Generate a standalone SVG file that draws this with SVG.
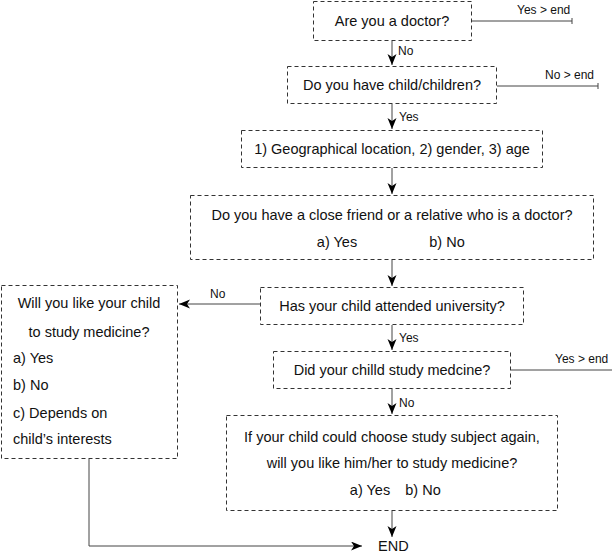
<svg xmlns="http://www.w3.org/2000/svg" width="612" height="556" viewBox="0 0 612 556">
<style>
.box{fill:#fff;stroke:#333;stroke-width:1;stroke-dasharray:4 3}
.t{font-family:"Liberation Sans",Arial,sans-serif;font-size:14.5px;fill:#111;text-anchor:middle}
.tl{font-family:"Liberation Sans",Arial,sans-serif;font-size:14.5px;fill:#111}
.s{font-family:"Liberation Sans",Arial,sans-serif;font-size:12px;fill:#111}
.ln{fill:none;stroke:#444;stroke-width:1}
</style>
<defs>
<marker id="ah" markerUnits="userSpaceOnUse" markerWidth="13" markerHeight="11" refX="11" refY="4.5" orient="auto">
<path d="M0,0 L11,4.5 L0,9 L3,4.5 z" fill="#000"/>
</marker>
</defs>
<rect width="612" height="556" fill="#fff"/>
<g id="connectors">
<line class="ln" x1="392" y1="41" x2="392" y2="65" marker-end="url(#ah)"/>
<line class="ln" x1="472" y1="21" x2="572" y2="21"/>
<line class="ln" x1="572" y1="18" x2="572" y2="24"/>
<line class="ln" x1="392" y1="104" x2="392" y2="129" marker-end="url(#ah)"/>
<line class="ln" x1="497" y1="86" x2="598" y2="86"/>
<line class="ln" x1="598" y1="83" x2="598" y2="89"/>
<line class="ln" x1="392" y1="168" x2="392" y2="194" marker-end="url(#ah)"/>
<line class="ln" x1="392" y1="260" x2="392" y2="286" marker-end="url(#ah)"/>
<line class="ln" x1="260" y1="304" x2="179" y2="304" marker-end="url(#ah)"/>
<line class="ln" x1="392" y1="325" x2="392" y2="350" marker-end="url(#ah)"/>
<line class="ln" x1="511" y1="370" x2="612" y2="370"/>
<line class="ln" x1="392" y1="389" x2="392" y2="414" marker-end="url(#ah)"/>
<line class="ln" x1="392" y1="511" x2="392" y2="537" marker-end="url(#ah)"/>
<path class="ln" d="M89,459 L89,546 L362,546" marker-end="url(#ah)"/>
<text class="s" x="517" y="14">Yes &gt; end</text>
<text class="s" x="398" y="55">No</text>
<text class="s" x="545" y="79">No &gt; end</text>
<text class="s" x="399" y="121">Yes</text>
<text class="s" x="210" y="298">No</text>
<text class="s" x="399" y="342">Yes</text>
<text class="s" x="555" y="363">Yes &gt; end</text>
<text class="s" x="399" y="407">No</text>
</g>
<g id="n1"><rect class="box" x="313.5" y="1.5" width="158" height="39"/><text class="t" x="392" y="26">Are you a doctor?</text></g>
<g id="n2"><rect class="box" x="287.5" y="66.5" width="209" height="37"/><text class="t" x="392" y="90">Do you have child/children?</text></g>
<g id="n3"><rect class="box" x="241.5" y="130.5" width="301" height="37"/><text class="t" x="392" y="154">1) Geographical location, 2) gender, 3) age</text></g>
<g id="n4"><rect class="box" x="190.5" y="195.5" width="403" height="64"/><text class="t" x="392" y="220">Do you have a close friend or a relative who is a doctor?</text><text class="t" x="337" y="247">a) Yes</text><text class="t" x="447" y="247">b) No</text></g>
<g id="n5"><rect class="box" x="260.5" y="287.5" width="263" height="37"/><text class="t" x="392" y="311">Has your child attended university?</text></g>
<g id="n6"><rect class="box" x="273.5" y="351.5" width="237" height="37"/><text class="t" x="392" y="375">Did your chilld study medcine?</text></g>
<g id="n7"><rect class="box" x="226.5" y="415.5" width="331" height="95"/><text class="t" x="392" y="442">If your child could choose study subject again,</text><text class="t" x="392" y="468">will you like him/her to study medicine?</text><text class="t" x="370" y="495">a) Yes</text><text class="t" x="423" y="495">b) No</text></g>
<g id="n8"><rect class="box" x="1.5" y="285.5" width="176" height="173"/><text class="t" x="89" y="308">Will you like your child</text><text class="t" x="89" y="337">to study medicine?</text><text class="tl" x="13" y="363">a) Yes</text><text class="tl" x="13" y="390">b) No</text><text class="tl" x="13" y="418">c) Depends on</text><text class="tl" x="13" y="444">child’s interests</text></g>
<g id="end"><text class="tl" x="378" y="551">END</text></g>
</svg>
